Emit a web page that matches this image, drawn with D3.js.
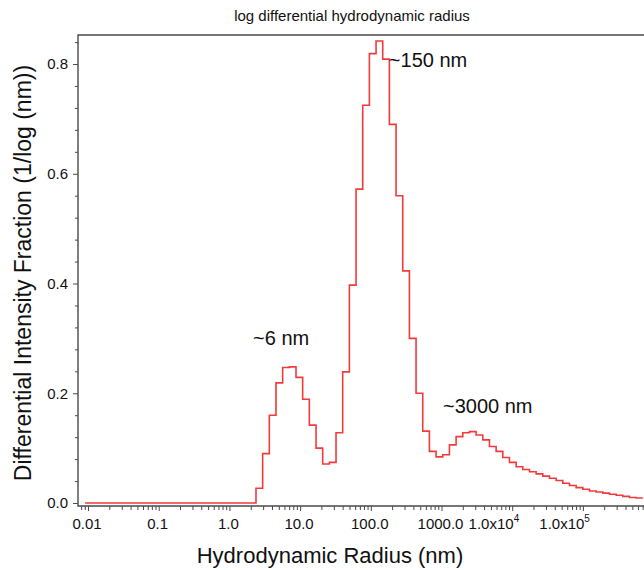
<!DOCTYPE html>
<html>
<head>
<meta charset="utf-8">
<script src="https://cdn.jsdelivr.net/npm/d3@7"></script>
<style>
  html, body { margin: 0; padding: 0; background: #fff; }
  svg { display: block; font-family: "Liberation Sans", Arial, sans-serif; }
</style>
</head>
<body>
<svg id="chart" width="644" height="570"></svg>
<script>
/* Log-differential DLS size distribution drawn as a step histogram. */

// bin edges (nm), one more than the values
var binEdges = [
  0.0091, 2.377, 2.953, 3.670, 4.560, 5.666, 7.041, 8.750, 10.87, 13.51,
  16.80, 20.86, 25.93, 32.22, 40.03, 49.75, 61.82, 76.81, 95.45, 118.6,
  147.4, 183.1, 227.6, 282.8, 351.4, 436.6, 542.6, 674.2, 837.9, 1041,
  1294, 1608, 1998, 2483, 3085, 3834, 4764, 5920, 7356, 9141,
  11360, 14112, 17535, 21790, 27075, 33650, 41810, 51950, 64570, 80230,
  99700, 123900, 153900, 191300, 237700, 295400, 367000, 456000, 566600, 704100
];

// differential intensity fraction per bin
var intensity = [
  0, 0.027, 0.090, 0.160, 0.219, 0.247, 0.248, 0.229, 0.189, 0.142,
  0.100, 0.071, 0.074, 0.128, 0.239, 0.397, 0.572, 0.725, 0.819, 0.842,
  0.809, 0.690, 0.560, 0.423, 0.300, 0.200, 0.131, 0.094, 0.084, 0.088,
  0.106, 0.121, 0.128, 0.130, 0.124, 0.115, 0.103, 0.094, 0.083, 0.074,
  0.066, 0.061, 0.057, 0.053, 0.049, 0.045, 0.041, 0.036, 0.032, 0.028,
  0.025, 0.022, 0.020, 0.018, 0.016, 0.014, 0.012, 0.010, 0.009
];

var xMajorTicks = [0.01, 0.1, 1, 10, 100, 1000, 1e4, 1e5];
var xTickLabels = [
  { base: "0.01" }, { base: "0.1" }, { base: "1.0" }, { base: "10.0" },
  { base: "100.0" }, { base: "1000.0" }, { base: "1.0x10", sup: "4" }, { base: "1.0x10", sup: "5" }
];
var yMajorTicks = [0, 0.2, 0.4, 0.6, 0.8];

var peakNotes = [
  { text: "~6 nm", r: 2.16, v: 0.288 },
  { text: "~150 nm", r: 180, v: 0.7945 },
  { text: "~3000 nm", r: 1050, v: 0.164 }
];

var titleText = "log differential hydrodynamic radius";
var xTitle = "Hydrodynamic Radius (nm)";
var yTitle = "Differential Intensity Fraction (1/log (nm))";

(function () {
  "use strict";

  var svg = d3.select("#chart");
  var plotLeft = 78, plotRight = 644, plotTop = 35, plotBottom = 506;

  var x = d3.scaleLog().domain([0.00722, 7.31e5]).range([plotLeft, plotRight]);
  var y = d3.scaleLinear().domain([-0.00547, 0.8529]).range([plotBottom, plotTop]);

  var axisColor = "#4a4a4a";
  var textColor = "#111";

  // frame (right side runs off the picture)
  svg.append("path")
    .attr("d", "M" + (plotRight + 10) + "," + plotTop + "H" + plotLeft + "V" + plotBottom + "H" + (plotRight + 10))
    .attr("fill", "none")
    .attr("stroke", axisColor)
    .attr("stroke-width", 1.4);

  // y axis
  var yMinor = d3.range(0.04, 0.86, 0.04).filter(function (v) {
    return yMajorTicks.every(function (m) { return Math.abs(m - v) > 1e-6; });
  });
  var gyMinor = svg.append("g").attr("transform", "translate(" + plotLeft + ",0)")
    .call(d3.axisLeft(y).tickValues(yMinor).tickSize(3).tickFormat(""));
  var gy = svg.append("g").attr("transform", "translate(" + plotLeft + ",0)")
    .call(d3.axisLeft(y).tickValues(yMajorTicks).tickSize(5).tickPadding(5).tickFormat(d3.format(".1f")));
  [gy, gyMinor].forEach(function (g) {
    g.select(".domain").remove();
    g.selectAll("line").attr("stroke", axisColor).attr("stroke-width", 1);
    g.attr("font-family", null).attr("font-size", null);
  });
  gy.selectAll("text").attr("font-size", 15).attr("fill", textColor);

  // x axis
  var xMinor = x.ticks(30).filter(function (v) {
    return xMajorTicks.every(function (m) { return Math.abs(Math.log10(m) - Math.log10(v)) > 1e-6; });
  });
  var gxMinor = svg.append("g").attr("transform", "translate(0," + plotBottom + ")")
    .call(d3.axisBottom(x).tickValues(xMinor).tickSize(4).tickFormat(""));
  var gx = svg.append("g").attr("transform", "translate(0," + plotBottom + ")")
    .call(d3.axisBottom(x).tickValues(xMajorTicks).tickSize(5).tickFormat(""));
  [gx, gxMinor].forEach(function (g) {
    g.select(".domain").remove();
    g.selectAll("line").attr("stroke", axisColor).attr("stroke-width", 1);
  });

  var xLabels = svg.append("g").attr("font-size", 15).attr("fill", textColor);
  xTickLabels.forEach(function (lab, i) {
    var t = xLabels.append("text").attr("y", plotBottom + 23);
    if (lab.sup) {
      t.attr("x", x(xMajorTicks[i]) + 7).attr("text-anchor", "end");
      t.append("tspan").text(lab.base);
      t.append("tspan").attr("font-size", 10).attr("dy", -7).text(lab.sup);
    } else {
      t.attr("x", x(xMajorTicks[i]) - 1).attr("text-anchor", "middle").text(lab.base);
    }
  });

  // histogram steps
  var steps = intensity.map(function (v, i) { return [binEdges[i], v]; });
  steps.push([binEdges[binEdges.length - 1], intensity[intensity.length - 1]]);

  var line = d3.line()
    .x(function (d) { return x(d[0]); })
    .y(function (d) { return y(d[1]); })
    .curve(d3.curveStepAfter);

  svg.append("path")
    .datum(steps)
    .attr("d", line)
    .attr("fill", "none")
    .attr("stroke", "#f23a3a")
    .attr("stroke-width", 1.6);

  // peak annotations
  svg.append("g").selectAll("text")
    .data(peakNotes)
    .join("text")
    .attr("x", function (d) { return x(d.r); })
    .attr("y", function (d) { return y(d.v); })
    .attr("font-size", 20)
    .attr("fill", textColor)
    .text(function (d) { return d.text; });

  // titles
  svg.append("text")
    .attr("x", 352).attr("y", 21)
    .attr("text-anchor", "middle")
    .attr("font-size", 15)
    .attr("fill", textColor)
    .text(titleText);

  svg.append("text")
    .attr("x", 330).attr("y", 563)
    .attr("text-anchor", "middle")
    .attr("font-size", 22)
    .attr("fill", textColor)
    .text(xTitle);

  svg.append("text")
    .attr("transform", "translate(31,273) rotate(-90)")
    .attr("text-anchor", "middle")
    .attr("font-size", 23)
    .attr("fill", textColor)
    .text(yTitle);
})();
</script>
</body>
</html>
